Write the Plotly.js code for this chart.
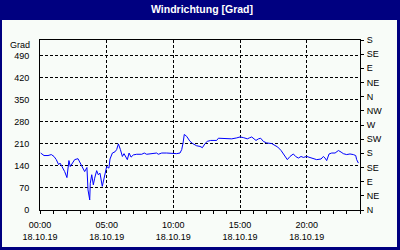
<!DOCTYPE html>
<html><head><meta charset="utf-8">
<script src="https://cdn.plot.ly/plotly-3.0.1.min.js"></script>
<style>html,body{margin:0;padding:0;background:#F8FCF8;}#c{width:400px;height:250px;}</style>
</head><body><div id="c"></div>
<script>
const chartTitle = "Windrichtung [Grad]";
const yUnit = "Grad";
const hours = [0.05,0.3,0.6,0.85,1.05,1.22,1.4,1.5,1.65,1.85,2.02,2.17,2.27,2.42,2.6,2.85,3.02,3.17,3.35,3.52,3.6,3.73,3.77,3.88,4.0,4.1,4.25,4.37,4.5,4.67,4.85,
5.0,5.17,5.25,5.43,5.63,5.75,5.88,6.03,6.18,6.3,6.43,6.55,6.68,6.83,7.0,7.25,7.63,7.82,8.0,8.38,8.75,8.87,9.13,9.5,9.88,10.25,10.5,10.63,10.73,10.82,11.0,11.18,
11.25,11.45,11.75,12.0,12.18,12.38,12.55,12.8,13.25,13.38,14.25,14.38,14.75,15.0,15.25,15.55,15.7,15.88,16.05,16.2,16.38,16.55,16.75,17.0,17.38,
17.63,17.83,18.08,18.33,18.55,18.75,19.0,19.17,19.38,19.58,19.75,20.0,20.25,20.5,20.75,21.08,21.25,21.38,21.5,21.68,21.88,22.13,22.38,22.58,22.75,23.0,23.25,23.5,23.68,23.75,23.88];
const direction = [181,173,173,176,170,160,144,149,138,122,103,157,138,149,160,163,149,133,122,135,64,32,85,112,80,101,125,112,117,75,112,
138,133,162,181,185,192,210,192,170,179,168,160,181,168,175,177,177,181,177,179,181,177,181,181,179,179,181,192,213,240,234,224,
218,211,204,202,198,211,218,221,221,228,228,226,229,232,230,226,229,232,226,221,226,228,218,213,211,
205,200,189,173,160,170,178,170,165,170,167,170,167,162,160,162,170,165,157,178,181,181,189,184,179,176,178,176,173,160,149];
const xTickVals = [0,5,10,15,20];
const xTickText = ["00:00<br>18.10.19","05:00<br>18.10.19","10:00<br>18.10.19","15:00<br>18.10.19","20:00<br>18.10.19"];
const yTickVals = [0,70,140,210,280,350,420,490];
const compassVals = [0,45,90,135,180,225,270,315,360,405,450,495,540];
const compassText = ["N","NE","E","SE","S","SW","W","NW","N","NE","E","SE","S"];

const navy = "#000080";
const bg = "#F8FCF8";
const font = {family: "Liberation Sans, Arial, sans-serif", size: 9, color: "#000"};
// pixel -> paper helpers (plot area 40..360 x, 40..210 y)
const px = p => (p - 40) / 320;
const py = p => (210 - p) / 170;

const trace = {x: hours, y: direction, type: "scatter", mode: "lines",
  line: {color: "#0000FF", width: 1}, hoverinfo: "skip"};
const trace2 = {x: [0], y: [0], yaxis: "y2", type: "scatter", mode: "markers",
  marker: {opacity: 0}, hoverinfo: "skip", showlegend: false};

const layout = {
  width: 400, height: 250,
  margin: {l: 40, r: 40, t: 40, b: 40},
  paper_bgcolor: bg, plot_bgcolor: bg,
  showlegend: false, font: font,
  xaxis: {range: [0, 24], tickmode: "array", tickvals: xTickVals, ticktext: xTickText,
    ticks: "outside", ticklen: 3, tickcolor: "#000", showgrid: true, gridcolor: "#000",
    griddash: "3px,2px", gridwidth: 1, showline: true, linecolor: "#000", linewidth: 1,
    mirror: true, zeroline: false, tickfont: font, ticklabelstandoff: 3,
    minor: {dtick: 1, tick0: 0, ticks: "outside", ticklen: 3, tickcolor: "#000", showgrid: false}},
  yaxis: {range: [0, 540], tickmode: "array", tickvals: yTickVals, ticks: "",
    showgrid: true, gridcolor: "#000", griddash: "3px,2px", gridwidth: 1,
    showline: true, linecolor: "#000", linewidth: 1, mirror: true, zeroline: false,
    tickfont: font, ticklabelstandoff: 8},
  yaxis2: {range: [0, 540], overlaying: "y", side: "right", tickmode: "array",
    tickvals: compassVals, ticktext: compassText, ticks: "outside", ticklen: 3,
    tickcolor: "#000", showgrid: false, zeroline: false, showline: false,
    tickfont: font, ticklabelstandoff: 1},
  shapes: [
    {type: "rect", xref: "paper", yref: "paper", x0: px(0), x1: px(400), y0: py(20), y1: py(0), fillcolor: navy, line: {width: 0}},
    {type: "rect", xref: "paper", yref: "paper", x0: px(0), x1: px(2), y0: py(250), y1: py(0), fillcolor: navy, line: {width: 0}},
    {type: "rect", xref: "paper", yref: "paper", x0: px(397), x1: px(400), y0: py(250), y1: py(0), fillcolor: navy, line: {width: 0}},
    {type: "rect", xref: "paper", yref: "paper", x0: px(0), x1: px(400), y0: py(250), y1: py(247), fillcolor: navy, line: {width: 0}}
  ],
  annotations: [
    {text: "<b>" + chartTitle + "</b>", xref: "paper", yref: "paper", x: px(202), y: py(9.5),
     xanchor: "center", yanchor: "middle", showarrow: false,
     font: {family: "Liberation Sans, Arial, sans-serif", size: 10.5, color: "#FFFFFF"}},
    {text: yUnit, xref: "paper", yref: "paper", x: px(32), y: py(44.5), xanchor: "right",
     yanchor: "middle", showarrow: false, font: font}
  ]
};
Plotly.newPlot("c", [trace, trace2], layout, {staticPlot: true, displayModeBar: false});
</script></body></html>
